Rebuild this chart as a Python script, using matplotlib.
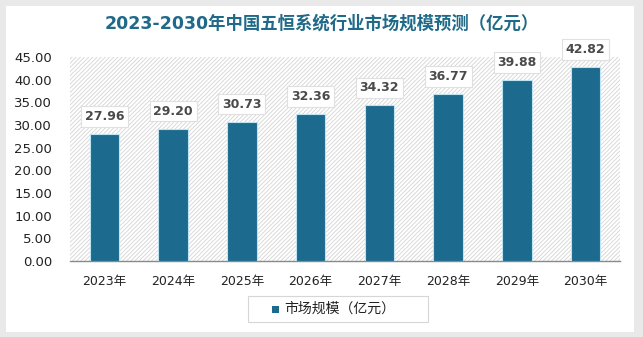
import matplotlib.pyplot as plt
from matplotlib.patches import Rectangle

years = ["2023年", "2024年", "2025年", "2026年", "2027年", "2028年", "2029年", "2030年"]
values = [27.96, 29.20, 30.73, 32.36, 34.32, 36.77, 39.88, 42.82]
yticks = [0, 5, 10, 15, 20, 25, 30, 35, 40, 45]

plt.rcParams["font.family"] = ["DejaVu Sans", "Noto Sans CJK SC"]
plt.rcParams["hatch.linewidth"] = 0.6

BAR = "#1c6a8d"
TXT = "#4a4a4a"

fig = plt.figure(figsize=(6.43, 3.37), dpi=100)
fig.patch.set_facecolor("#e9e9e9")
# white card behind everything
fig.patches.append(Rectangle((6 / 643, 5 / 337), 628 / 643, 326 / 337,
                             transform=fig.transFigure, facecolor="white",
                             edgecolor="none", zorder=-10))

ax = fig.add_axes([70 / 643, 1 - 261 / 337, 550 / 643, 204 / 337])
ax.set_facecolor("none")
# hatched plot background
ax.add_patch(Rectangle((0, 0), 1, 1, transform=ax.transAxes, facecolor="white",
                       edgecolor="#d4d4d4", linewidth=0, hatch="////////", zorder=0))

x = range(len(years))
ax.bar(x, values, width=0.43, color=BAR, edgecolor="#bfe3f2", linewidth=0.8, zorder=3)

for i, v in zip(x, values):
    ax.annotate(f"{v:.2f}", (i, v), xytext=(0, 8), textcoords="offset points",
                ha="center", va="bottom", fontsize=9, fontweight="bold", color=TXT,
                zorder=5,
                bbox=dict(boxstyle="square,pad=0.3", facecolor="white",
                          edgecolor="#e0e0e0", linewidth=0.8))

ax.set_xlim(-0.5, len(years) - 0.5)
ax.set_ylim(0, 45)
ax.set_yticks(yticks)
ax.set_yticklabels([f"{t:.2f}" for t in yticks], fontsize=9.5, color="#222222")
ax.set_xticks(list(x))
ax.set_xticklabels(years, fontsize=9, color="#222222")
ax.tick_params(length=0, pad=10)
ax.tick_params(axis="y", pad=13)
for s in ["top", "right", "left"]:
    ax.spines[s].set_visible(False)
ax.spines["bottom"].set_color("#8a8a8a")
ax.spines["bottom"].set_linewidth(1)

fig.text(0.5, 1 - 24 / 337, "2023-2030年中国五恒系统行业市场规模预测（亿元）",
         ha="center", va="center", fontsize=12.5, fontweight="bold", color="#1f6a88")

# legend box
fig.patches.append(Rectangle((248 / 643, 1 - 322 / 337), 180 / 643, 26 / 337,
                             transform=fig.transFigure, facecolor="white",
                             edgecolor="#d6d6d6", linewidth=0.8, zorder=1))
fig.patches.append(Rectangle((272 / 643, 1 - 313 / 337), 7 / 643, 7 / 337,
                             transform=fig.transFigure, facecolor=BAR,
                             edgecolor="none", zorder=2))
fig.text(284 / 643, 1 - 309 / 337, "市场规模（亿元）", ha="left", va="center",
         fontsize=10, color="#222222")

fig.savefig("out.png", dpi=100)
